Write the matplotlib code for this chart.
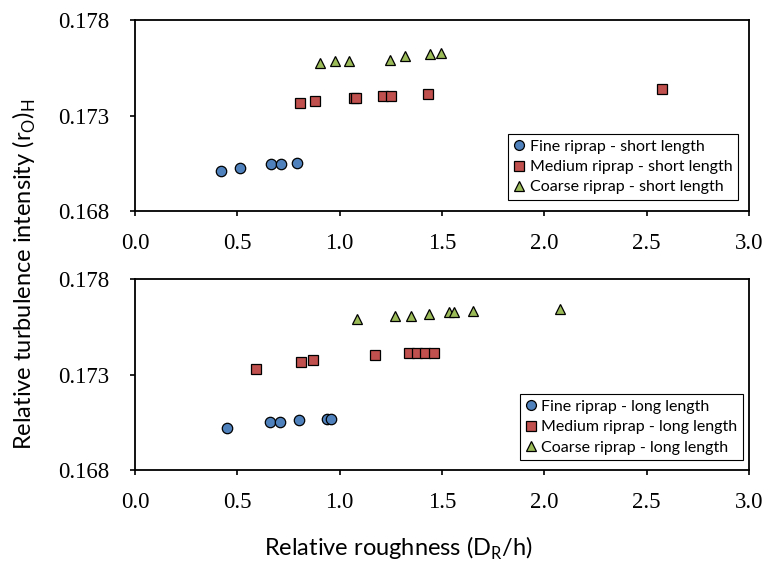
import matplotlib
matplotlib.use("Agg")
import matplotlib.pyplot as plt

# ---------------- data ----------------
# Top panel: short length
fine_short_x = [0.42, 0.515, 0.666, 0.715, 0.791]
fine_short_y = [0.17009, 0.17027, 0.17046, 0.17049, 0.17055]
medium_short_x = [0.806, 0.879, 1.07, 1.08, 1.213, 1.252, 1.433, 2.573]
medium_short_y = [0.17366, 0.17375, 0.17392, 0.17390, 0.17403, 0.17405, 0.17412, 0.17441]
coarse_short_x = [0.905, 0.979, 1.047, 1.246, 1.321, 1.443, 1.493]
coarse_short_y = [0.17573, 0.17583, 0.17588, 0.17590, 0.17613, 0.17622, 0.17625]

# Bottom panel: long length
fine_long_x = [0.449, 0.660, 0.707, 0.803, 0.938, 0.957]
fine_long_y = [0.17020, 0.17050, 0.17050, 0.17060, 0.17069, 0.17069]
medium_long_x = [0.593, 0.811, 0.871, 1.172, 1.340, 1.376, 1.415, 1.459]
medium_long_y = [0.17331, 0.17368, 0.17375, 0.17401, 0.17411, 0.17411, 0.17413, 0.17415]
coarse_long_x = [1.086, 1.269, 1.347, 1.435, 1.536, 1.560, 1.651, 2.075]
coarse_long_y = [0.17590, 0.17607, 0.17607, 0.17619, 0.17627, 0.17627, 0.17632, 0.17645]

x_ticks = [0.0, 0.5, 1.0, 1.5, 2.0, 2.5, 3.0]
y_ticks = [0.168, 0.173, 0.178]

labels_short = ["Fine riprap - short length", "Medium riprap - short length", "Coarse riprap - short length"]
labels_long = ["Fine riprap - long length", "Medium riprap - long length", "Coarse riprap - long length"]

# ---------------- style ----------------
c_fine = "#4F81BD"
c_med = "#C0504D"
c_coarse = "#9BBB59"
sans = "Lato"
serif = "Liberation Serif"

fig = plt.figure(figsize=(7.64, 5.66), dpi=100)
ax1 = fig.add_axes([0.1767, 0.6267, 0.8037, 0.338])
ax2 = fig.add_axes([0.1767, 0.1696, 0.8037, 0.3369])


def draw(ax, fx, fy, mx, my, cx, cy, labels, leg_anchor):
    ax.plot(fx, fy, linestyle="none", marker="o", ms=7.5, mfc=c_fine, mec="black", mew=0.9, label=labels[0])
    ax.plot(mx, my, linestyle="none", marker="s", ms=7.2, mfc=c_med, mec="black", mew=0.9, label=labels[1])
    ax.plot(cx, cy, linestyle="none", marker="^", ms=7.5, mfc=c_coarse, mec="black", mew=0.9, label=labels[2])
    ax.set_xlim(0, 3.0)
    ax.set_ylim(0.168, 0.178)
    ax.set_xticks(x_ticks, [f"{v:.1f}" for v in x_ticks])
    ax.set_yticks(y_ticks, [f"{v:.3f}" for v in y_ticks])
    ax.tick_params(axis="x", direction="out", length=3.6, width=1.2, pad=12, top=False,
                   labelsize=16.5, labelfontfamily=serif)
    ax.tick_params(axis="y", direction="out", length=3.6, width=1.2, pad=15, right=False,
                   labelsize=16.5, labelfontfamily=serif)
    for s in ax.spines.values():
        s.set_linewidth(1.3)
        s.set_color("black")
    leg = ax.legend(loc="lower right", bbox_to_anchor=leg_anchor, prop={"family": sans, "size": 11.5},
                    frameon=True, fancybox=False, edgecolor="black", framealpha=1,
                    handlelength=0.7, handletextpad=0.3, labelspacing=0.38, borderpad=0.35,
                    borderaxespad=0, markerscale=0.95)
    leg.get_frame().set_linewidth(0.8)


draw(ax1, fine_short_x, fine_short_y, medium_short_x, medium_short_y,
     coarse_short_x, coarse_short_y, labels_short, (0.982, 0.059))
draw(ax2, fine_long_x, fine_long_y, medium_long_x, medium_long_y,
     coarse_long_x, coarse_long_y, labels_long, (0.990, 0.052))

fig.text(24 / 764, 1 - 274 / 566, r"Relative turbulence intensity (r$_\mathregular{O}$)$_\mathregular{H}$",
         rotation=90, ha="center", va="center", family=sans, fontsize=17)
fig.text(398 / 764, 1 - 548 / 566, r"Relative roughness (D$_\mathregular{R}$/h)",
         ha="center", va="center", family=sans, fontsize=17)

fig.savefig("out.png", dpi=100)
